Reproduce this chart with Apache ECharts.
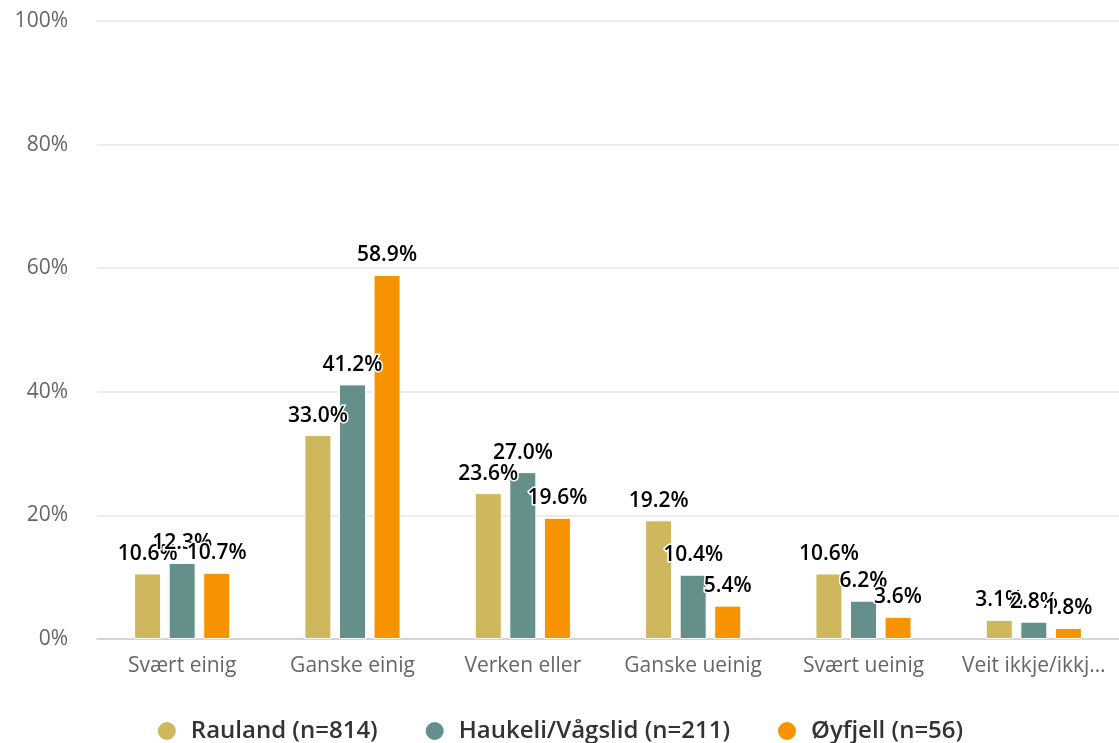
<!DOCTYPE html>
<html><head><meta charset="utf-8">
<script src="https://cdn.jsdelivr.net/npm/echarts@6/dist/echarts.min.js"></script>
<style>html,body{margin:0;padding:0;background:#fff}#c{width:1119px;height:743px}</style>
</head><body><div id="c"></div>
<script>
const categories = ['Svært einig','Ganske einig','Verken eller','Ganske ueinig','Svært ueinig','Veit ikkje/ikkje relevant'];
const seriesNames = ['Rauland (n=814)','Haukeli/Vågslid (n=211)','Øyfjell (n=56)'];
const rauland = [10.6, 33.0, 23.6, 19.2, 10.6, 3.1];
const haukeli = [12.3, 41.2, 27.0, 10.4, 6.2, 2.8];
const oyfjell = [10.7, 58.9, 19.6, 5.4, 3.6, 1.8];
const colors = ['#cfb75e', '#648f8a', '#f89300'];
const font = 'Open Sans';

const chart = echarts.init(document.getElementById('c'), null, {renderer:'canvas'});
function mk(name, data, color){
  return {
    name, type:'bar', data, barWidth: 27, barGap: '28%',
    itemStyle:{color, borderColor:'#fff', borderWidth:1},
    label:{show:true, position:'top', distance:9, formatter: p => p.value.toFixed(1)+'%',
      color:'#000', fontFamily:font, fontSize:21, fontWeight:600,
      textBorderColor:'#fff', textBorderWidth:3},
    emphasis:{disabled:true}, animation:false
  };
}
chart.setOption({
  animation:false,
  color: colors,
  grid:{left:97, top:21, width:1026, height:618, containLabel:false},
  legend:{top:714, left:'center', icon:'circle', itemWidth:20, itemHeight:20, itemGap:46,
    textStyle:{fontFamily:font, fontSize:24, fontWeight:600, color:'#333', padding:[0,0,0,9]},
    data: seriesNames},
  xAxis:{type:'category', data:categories,
    axisLine:{lineStyle:{color:'#ccc', width:1.5}}, axisTick:{show:false},
    axisLabel:{color:'#666', fontFamily:font, fontSize:21, margin:17, interval:0,
      width:152, overflow:'truncate', ellipsis:'…'}},
  yAxis:{type:'value', min:0, max:100, interval:20,
    axisLabel:{formatter:'{value}%', color:'#666', fontFamily:font, fontSize:21, margin:29},
    splitLine:{lineStyle:{color:'#e6e6e6', width:1.5}},
    axisLine:{show:false}, axisTick:{show:false}},
  series:[mk(seriesNames[0], rauland, colors[0]), mk(seriesNames[1], haukeli, colors[1]), mk(seriesNames[2], oyfjell, colors[2])]
});
</script></body></html>
